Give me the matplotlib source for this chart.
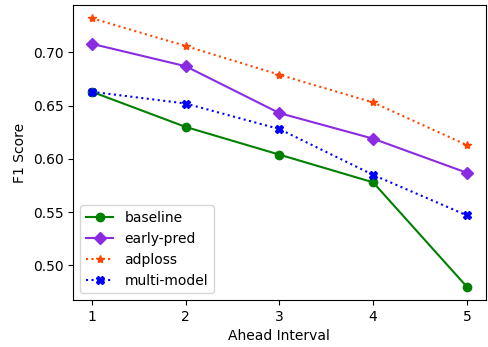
import matplotlib
matplotlib.use("Agg")
import matplotlib.pyplot as plt

intervals = [1, 2, 3, 4, 5]
baseline = [0.663, 0.630, 0.604, 0.578, 0.480]
early_pred = [0.708, 0.687, 0.643, 0.619, 0.587]
adploss = [0.732, 0.706, 0.679, 0.653, 0.613]
multi_model = [0.663, 0.652, 0.628, 0.585, 0.547]

fig = plt.figure(figsize=(4.88, 3.47), dpi=100)
ax = fig.add_axes([0.15, 0.135, 0.845, 0.851])
ax.plot(intervals, baseline, color="green", marker="o", linestyle="-", label="baseline")
ax.plot(intervals, early_pred, color="blueviolet", marker="D", linestyle="-", label="early-pred")
ax.plot(intervals, adploss, color="orangered", marker="*", linestyle=":", label="adploss")
ax.plot(intervals, multi_model, color="blue", marker="X", linestyle=":", label="multi-model")
ax.set_xticks(intervals)
ax.set_xlabel("Ahead Interval")
ax.set_ylabel("F1 Score")
ax.legend(loc="lower left")
fig.savefig("out.png", dpi=100)
